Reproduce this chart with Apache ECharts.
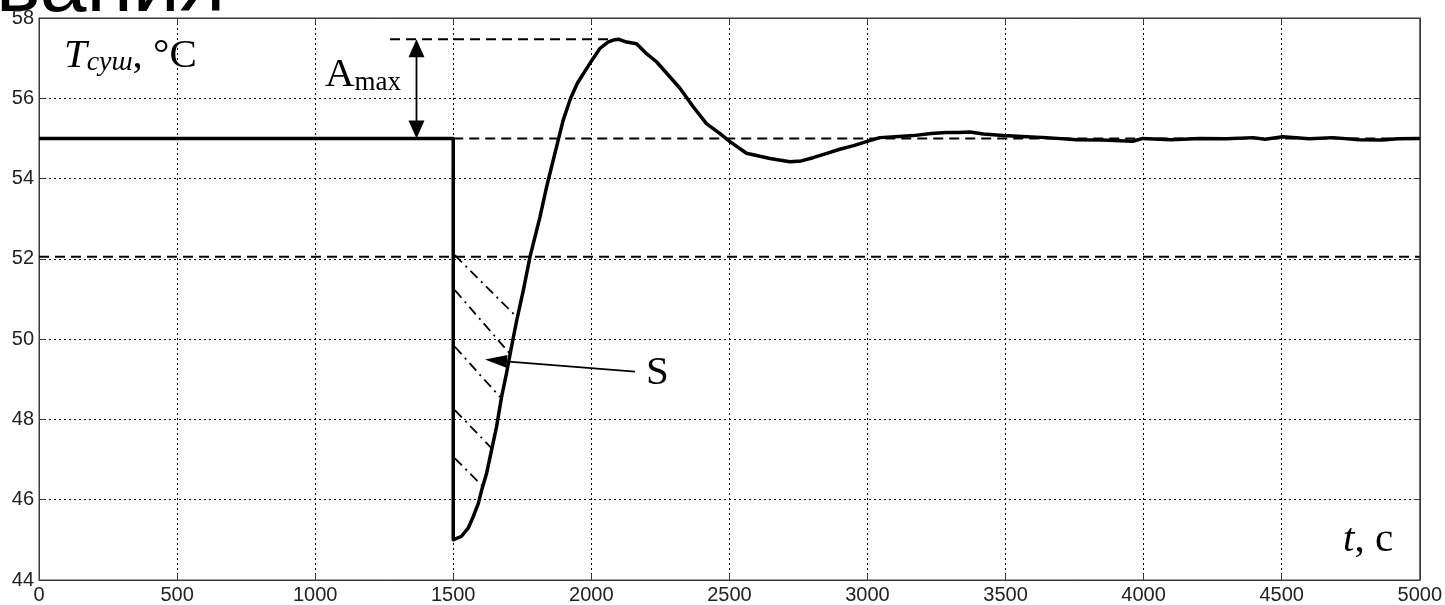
<!DOCTYPE html>
<html>
<head>
<meta charset="utf-8">
<script src="https://cdn.jsdelivr.net/npm/echarts@6/dist/echarts.min.js"></script>
<style>html,body{margin:0;padding:0;background:#fff;}#c{width:1445px;height:605px;}</style>
</head>
<body>
<div id="c"></div>
<script>
// ---- data ----
const xTickLabels = ['0','500','1000','1500','2000','2500','3000','3500','4000','4500','5000'];
const yTickLabels = ['44','46','48','50','52','54','56','58'];
const times = [0,1500,1500,1530,1554,1572,1591,1603,1621,1639,1657,1675,1693,1711,1730,1754,1778,1814,1838,1868,1898,1925,1950,1995,2031,2060,2085,2100,2128,2164,2200,2236,2285,2321,2369,2417,2466,2502,2562,2647,2719,2760,2803,2850,2900,2950,2996,3045,3100,3166,3230,3286,3330,3371,3420,3491,3560,3648,3757,3850,3961,3997,4100,4203,4300,4396,4440,4504,4600,4685,4780,4866,4920,5000];
const temps = [55,55,45.0,45.09,45.29,45.57,45.91,46.24,46.66,47.24,47.82,48.56,49.15,49.81,50.47,51.22,52.05,53.04,53.79,54.62,55.45,56.0,56.38,56.87,57.24,57.40,57.46,57.47,57.40,57.36,57.11,56.91,56.53,56.25,55.79,55.37,55.12,54.92,54.63,54.50,54.42,54.44,54.52,54.62,54.73,54.82,54.92,55.02,55.04,55.07,55.12,55.15,55.15,55.16,55.11,55.07,55.05,55.02,54.97,54.96,54.93,55.0,54.97,55.0,54.99,55.02,54.98,55.04,54.99,55.02,54.97,54.96,54.99,55.0];
const amaxLine = [[1271,57.47],[2097,57.47]];
const setpointLine = [[1500,55],[5000,55]];
const lowLine = [[0,52.05],[5000,52.05]];
const hatch1 = [[1506,52.09],[1730,50.55]];
const hatch2 = [[1506,51.22],[1705,49.64]];
const hatch3 = [[1506,49.81],[1669,48.56]];
const hatch4 = [[1506,48.23],[1645,47.24]];
const hatch5 = [[1506,47.03],[1609,46.32]];
const amaxArrow = [[1367,55.0],[1367,57.47]];
const sArrow = [[2158,49.19],[1615,49.49]];

const chart = echarts.init(document.getElementById('c'));
const mainData = times.map((t,i)=>[t,temps[i]]);
const serif = '"Liberation Serif","Times New Roman",serif';
const axisCol = '#3a3a3a';
const gridLine = {show:true, lineStyle:{color:'#000', width:1, type:[2,3]}};
const labelStyle = {color:'#222', fontSize:20, fontFamily:'"Liberation Sans",Arial,sans-serif'};

function dashed(data, type, width){
  return {type:'line', data:data, showSymbol:false, symbol:'none', silent:true, animation:false,
    lineStyle:{color:'#000', width:width, type:type}, z:3};
}

const textGraphics = [
  {type:'text', left:-4, top:-54, silent:true, style:{text:'вания', font:'84px "Liberation Sans", Arial, sans-serif', fill:'#000'}},
  {type:'text', x:64, y:77, silent:true, style:{text:'{T|T}{s|суш}{n|, °C}', verticalAlign:'bottom',
    rich:{T:{fontFamily:serif, fontStyle:'italic', fontSize:41, lineHeight:40, verticalAlign:'bottom'},
          s:{fontFamily:serif, fontStyle:'italic', fontSize:28, lineHeight:24, verticalAlign:'bottom'},
          n:{fontFamily:serif, fontSize:41, lineHeight:40, verticalAlign:'bottom'}}}},
  {type:'text', x:325, y:96, silent:true, style:{text:'{A|A}{s|max}', verticalAlign:'bottom',
    rich:{A:{fontFamily:serif, fontSize:41, lineHeight:40, verticalAlign:'bottom'},
          s:{fontFamily:serif, fontSize:27, lineHeight:24, verticalAlign:'bottom'}}}},
  {type:'text', x:646, y:394, silent:true, style:{text:'S', verticalAlign:'bottom', font:'41px '+serif, fill:'#000'}},
  {type:'text', x:1343, y:561, silent:true, style:{text:'{i|t}{n|, с}', verticalAlign:'bottom',
    rich:{i:{fontFamily:serif, fontStyle:'italic', fontSize:41, lineHeight:40, verticalAlign:'bottom'},
          n:{fontFamily:serif, fontSize:41, lineHeight:40, verticalAlign:'bottom'}}}}
];

chart.setOption({
  animation:false,
  grid:{left:39, right:25, top:18, bottom:25, show:true, borderColor:axisCol, borderWidth:1},
  xAxis:[{type:'value', min:0, max:5000, interval:500, position:'bottom',
    axisLine:{show:true, onZero:false, lineStyle:{color:axisCol}},
    axisTick:{show:true, inside:true, length:6, lineStyle:{color:axisCol}},
    axisLabel:Object.assign({margin:5, formatter:(v)=>xTickLabels[Math.round(v/500)]}, labelStyle),
    splitLine:gridLine},
    {type:'value', min:0, max:5000, interval:500, position:'top',
    axisLine:{show:true, onZero:false, lineStyle:{color:axisCol}},
    axisTick:{show:true, inside:true, length:6, lineStyle:{color:axisCol}},
    axisLabel:{show:false}, splitLine:{show:false}}],
  yAxis:[{type:'value', min:44, max:58, interval:2, position:'left',
    axisLine:{show:true, onZero:false, lineStyle:{color:axisCol}},
    axisTick:{show:true, inside:true, length:6, lineStyle:{color:axisCol}},
    axisLabel:Object.assign({margin:5, formatter:(v)=>yTickLabels[Math.round((v-44)/2)]}, labelStyle),
    splitLine:gridLine},
    {type:'value', min:44, max:58, interval:2, position:'right',
    axisLine:{show:true, onZero:false, lineStyle:{color:axisCol}},
    axisTick:{show:true, inside:true, length:6, lineStyle:{color:axisCol}},
    axisLabel:{show:false}, splitLine:{show:false}}],
  series:[
    dashed(lowLine,[10,6],2),
    dashed(setpointLine,[10,6],2),
    dashed(amaxLine,[10,6],2),
    dashed(hatch1,[10,5,2,5],1.8),
    dashed(hatch2,[10,5,2,5],1.8),
    dashed(hatch3,[10,5,2,5],1.8),
    dashed(hatch4,[10,5,2,5],1.8),
    dashed(hatch5,[10,5,2,5],1.8),
    {type:'line', data:mainData, showSymbol:false, symbol:'none', animation:false, silent:true,
      lineStyle:{color:'#000', width:3.5, join:'round'}, z:10}
  ],
  graphic:textGraphics
});

// arrows drawn through the chart's own coordinate conversion
function arrowGraphics(seg, headLen, headW, both){
  const a = chart.convertToPixel({gridIndex:0}, seg[0]);
  const b = chart.convertToPixel({gridIndex:0}, seg[1]);
  const dx = b[0]-a[0], dy = b[1]-a[1], L = Math.hypot(dx,dy);
  const ux = dx/L, uy = dy/L, nx = -uy, ny = ux;
  function head(tip, dirx, diry){
    const bx = tip[0]-dirx*headLen, by = tip[1]-diry*headLen;
    return {type:'polygon', silent:true, z:20, shape:{points:[[tip[0],tip[1]],[bx+nx*headW/2,by+ny*headW/2],[bx-nx*headW/2,by-ny*headW/2]]}, style:{fill:'#000'}};
  }
  const start = both ? [a[0]+ux*headLen*0.8, a[1]+uy*headLen*0.8] : a;
  const end = [b[0]-ux*headLen*0.8, b[1]-uy*headLen*0.8];
  const out = [{type:'line', silent:true, z:20, shape:{x1:start[0],y1:start[1],x2:end[0],y2:end[1]}, style:{stroke:'#000', lineWidth:1.8}}];
  out.push(head(b, ux, uy));
  if (both) out.push(head(a, -ux, -uy));
  return out;
}
chart.setOption({graphic: textGraphics.concat(arrowGraphics(amaxArrow,18,16,true), arrowGraphics(sArrow,22,13,false))});
</script>
</body>
</html>
